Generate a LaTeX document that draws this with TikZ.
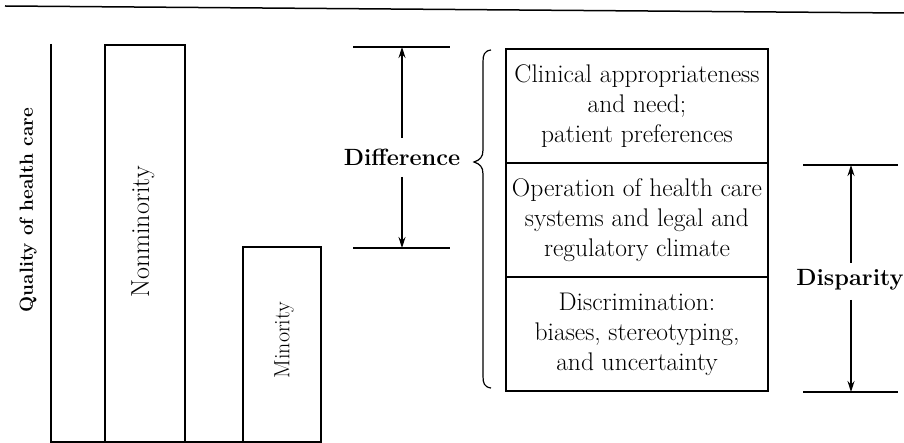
\documentclass[tikz,border=0pt]{standalone}
\usetikzlibrary{arrows.meta}
\begin{document}
\begin{tikzpicture}[x=1pt,y=-1pt,
  bar/.style={draw,line width=1.4pt,inner sep=0pt},
  barlbl/.style={rotate=90,inner sep=0pt},
  cbox/.style={draw,line width=1.6pt,minimum width=262pt,minimum height=114pt,inner sep=0pt,align=center,font=\fontsize{25.5}{30}\selectfont},
  lbl/.style={font=\fontsize{23.5}{26}\selectfont\bfseries,inner sep=0pt},
  arr/.style={line width=1.1pt,-{Stealth[length=11pt,width=7pt]}},
  rulel/.style={line width=1.5pt}]
\useasboundingbox (0,0) rectangle (904,443);
% top rule
\coordinate (tl) at (5,6);
\coordinate (tr) at (904,13);
\draw[rulel] (tl) -- (tr);
% axes
\coordinate (ytop) at (51,44);
\coordinate (orig) at (51,442);
\coordinate (xend) at (321,442);
\draw[line width=1.4pt] (ytop) -- (orig) -- (xend);
\node[lbl,rotate=90,font=\fontsize{19}{22}\selectfont\bfseries] (qual) at (28,210) {Quality of health care};
% bars
\node[bar,minimum width=80pt,minimum height=397pt] (nonmin) at (145,243.5) {};
\node[barlbl,font=\fontsize{26}{28}\selectfont] (nonminl) at (143,232) {Nonminority};
\node[bar,minimum width=78pt,minimum height=195pt] (min) at (282,344.5) {};
\node[barlbl,font=\fontsize{22}{25}\selectfont] (minl) at (284,340) {Minority};
% difference
\coordinate (d1l) at (353,47);
\coordinate (d1r) at (450,47);
\coordinate (d2l) at (353,248);
\coordinate (d2r) at (450,248);
\coordinate (d1m) at (402,47);
\coordinate (d2m) at (402,248);
\draw[rulel] (d1l) -- (d1r);
\draw[rulel] (d2l) -- (d2r);
\node[lbl] (diff) at (402,157) {Difference};
\coordinate (da) at (402,138);
\coordinate (db) at (402,177);
\draw[arr] (da) -- (d1m);
\draw[arr] (db) -- (d2m);
% brace
\draw[line width=1.2pt] (491,50) .. controls (484,51) and (483,55) .. (483,62) -- (483,150) .. controls (483,157) and (480,160) .. (474,162) .. controls (480,164) and (483,167) .. (483,174) -- (483,376) .. controls (483,383) and (484,387) .. (491,388);
% boxes
\node[cbox] (b1) at (637,106) {Clinical appropriateness\\and need;\\patient preferences};
\node[cbox] (b2) at (637,220) {Operation of health care\\systems and legal and\\regulatory climate};
\node[cbox] (b3) at (637,334) {Discrimination:\\biases, stereotyping,\\and uncertainty};
% disparity
\coordinate (p1l) at (803,165);
\coordinate (p1r) at (898,165);
\coordinate (p2l) at (803,392);
\coordinate (p2r) at (898,392);
\coordinate (p1m) at (851,165);
\coordinate (p2m) at (851,392);
\draw[rulel] (p1l) -- (p1r);
\draw[rulel] (p2l) -- (p2r);
\node[lbl] (disp) at (850,280) {Disparity};
\coordinate (pa) at (851,263);
\coordinate (pb) at (851,300);
\draw[arr] (pa) -- (p1m);
\draw[arr] (pb) -- (p2m);
\end{tikzpicture}
\end{document}
